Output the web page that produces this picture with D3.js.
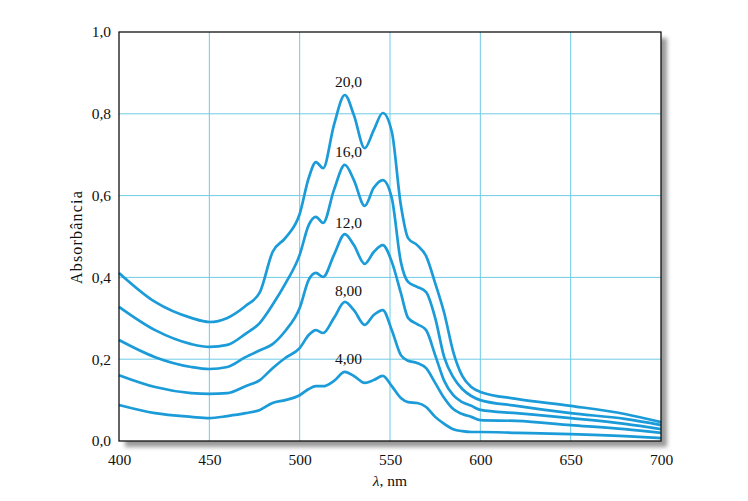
<!DOCTYPE html>
<html>
<head>
<meta charset="utf-8">
<script src="https://cdn.jsdelivr.net/npm/d3@7"></script>
<style>
html,body{margin:0;padding:0;background:#fff;}
svg{display:block;font-family:"Liberation Serif","Times New Roman",serif;}
</style>
</head>
<body>
<svg id="chart" width="748" height="501"></svg>
<script>
const wavelengths = [400,420,440,450,460,470,478,485,492,500,505,509,513,519,525,530,536,541,546,551,556,560,565,570,575,580,585,590,595,600,620,650,680,700];
const s20 = [0.411,0.340,0.301,0.291,0.301,0.330,0.364,0.462,0.496,0.555,0.643,0.682,0.667,0.773,0.846,0.797,0.716,0.760,0.802,0.756,0.577,0.496,0.479,0.452,0.386,0.313,0.218,0.159,0.132,0.120,0.103,0.086,0.066,0.046];
const s16 = [0.328,0.271,0.237,0.230,0.235,0.262,0.289,0.333,0.384,0.455,0.528,0.548,0.533,0.614,0.675,0.638,0.575,0.619,0.638,0.594,0.438,0.389,0.377,0.364,0.301,0.205,0.156,0.127,0.110,0.100,0.086,0.068,0.054,0.039];
const s12 = [0.247,0.205,0.181,0.176,0.181,0.205,0.222,0.237,0.269,0.325,0.394,0.411,0.401,0.455,0.506,0.479,0.433,0.462,0.479,0.438,0.362,0.301,0.286,0.271,0.210,0.147,0.112,0.095,0.086,0.076,0.068,0.056,0.042,0.029];
const s8  = [0.161,0.132,0.117,0.115,0.117,0.134,0.149,0.178,0.203,0.227,0.259,0.271,0.264,0.301,0.340,0.320,0.284,0.308,0.320,0.271,0.210,0.196,0.191,0.178,0.142,0.105,0.078,0.066,0.059,0.051,0.049,0.039,0.029,0.020];
const s4  = [0.088,0.068,0.059,0.056,0.061,0.068,0.076,0.093,0.100,0.112,0.127,0.134,0.134,0.147,0.169,0.159,0.142,0.149,0.159,0.134,0.105,0.095,0.093,0.083,0.059,0.042,0.029,0.024,0.022,0.022,0.020,0.017,0.012,0.007];
const seriesLabels = ["20,0","16,0","12,0","8,00","4,00"];
const labelWavelength = 527;
const labelValues = [0.865,0.695,0.52,0.355,0.188];
const xTicks = [400,450,500,550,600,650,700];
const yTicks = [0,0.2,0.4,0.6,0.8,1.0];
const yTickLabels = ["0,0","0,2","0,4","0,6","0,8","1,0"];
const xTitle = "nm";
const yTitle = "Absorbância";

const svg = d3.select("#chart");
const L = 119, R = 661, T = 32, B = 441;
const x = d3.scaleLinear().domain([400,700]).range([L,R]);
const y = d3.scaleLinear().domain([0,1]).range([B,T]);

// shadow
const defs = svg.append("defs");
const f = defs.append("filter").attr("id","sh").attr("x","-5%").attr("y","-5%").attr("width","115%").attr("height","115%");
f.append("feGaussianBlur").attr("stdDeviation",2.2);
svg.append("rect").attr("x",L+6).attr("y",T+6).attr("width",R-L).attr("height",B-T)
  .attr("fill","#9a9a9a").attr("filter","url(#sh)");
svg.append("rect").attr("x",L).attr("y",T).attr("width",R-L).attr("height",B-T).attr("fill","#fff");

// grid
const gridColor = "#6ecbe5";
svg.append("g").selectAll("line").data(xTicks.slice(1,-1)).join("line")
  .attr("x1",d=>x(d)).attr("x2",d=>x(d)).attr("y1",T).attr("y2",B)
  .attr("stroke",gridColor).attr("stroke-width",1);
svg.append("g").selectAll("line").data(yTicks.slice(1,-1)).join("line")
  .attr("y1",d=>y(d)).attr("y2",d=>y(d)).attr("x1",L).attr("x2",R)
  .attr("stroke",gridColor).attr("stroke-width",1);

// axes (labels only)
const xAxis = d3.axisBottom(x).tickValues(xTicks).tickSize(0).tickPadding(13).tickFormat(d3.format("d"));
const gx = svg.append("g").attr("transform",`translate(0,${B})`).call(xAxis);
gx.select(".domain").remove();
gx.selectAll("text").attr("font-size",15.5).attr("fill","#111").attr("font-family","Liberation Serif, serif");

const yAxis = d3.axisLeft(y).tickValues(yTicks).tickSize(0).tickPadding(8).tickFormat((d,i)=>yTickLabels[i]);
const gy = svg.append("g").attr("transform",`translate(${L},0)`).call(yAxis);
gy.select(".domain").remove();
gy.selectAll("text").attr("font-size",15.5).attr("fill","#111").attr("font-family","Liberation Serif, serif");

// curves
const data = [s20,s16,s12,s8,s4];
const line = d3.line().x((d,i)=>x(wavelengths[i])).y(d=>y(d)).curve(d3.curveMonotoneX);
svg.append("g").selectAll("path").data(data).join("path")
  .attr("d",line).attr("fill","none").attr("stroke","#1b9bd8").attr("stroke-width",2.7)
  .attr("stroke-linejoin","round");

// frame
svg.append("rect").attr("x",L).attr("y",T).attr("width",R-L).attr("height",B-T)
  .attr("fill","none").attr("stroke","#111").attr("stroke-width",1.3);

// series labels
svg.append("g").selectAll("text").data(seriesLabels).join("text")
  .attr("x",x(labelWavelength)).attr("y",(d,i)=>y(labelValues[i]))
  .attr("text-anchor","middle").attr("font-size",15.5).attr("fill","#111").text(d=>d);

// axis titles
const xt = svg.append("text").attr("x",390).attr("y",486).attr("text-anchor","middle").attr("font-size",15.5).attr("fill","#111");
xt.append("tspan").attr("font-style","italic").text("λ");
xt.append("tspan").text(", " + xTitle);

svg.append("text").attr("transform","translate(82,237) rotate(-90)").attr("text-anchor","middle")
  .attr("font-size",16).attr("letter-spacing",1.2).attr("fill","#111").text(yTitle);
</script>
</body>
</html>
